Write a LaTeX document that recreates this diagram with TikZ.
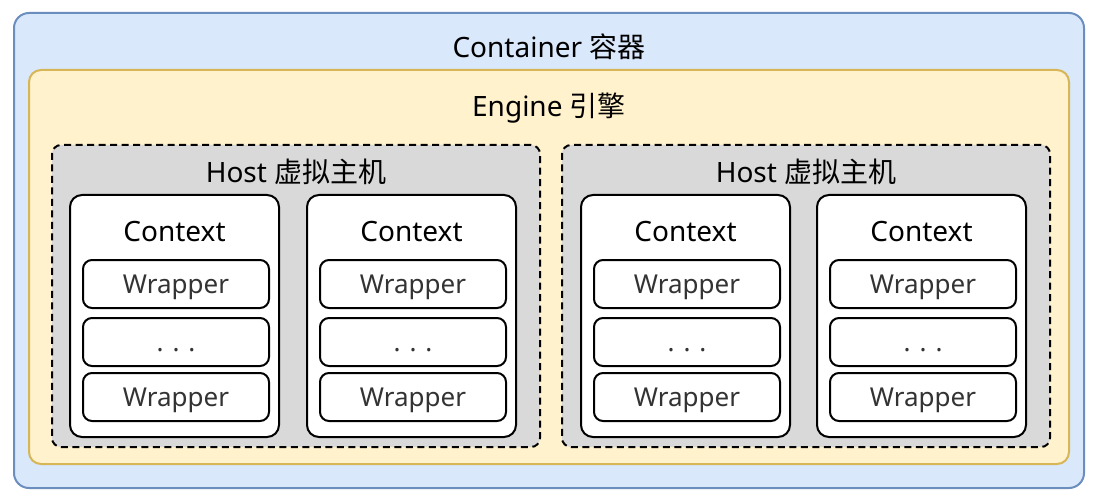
\documentclass[tikz,border=0pt]{standalone}
\usepackage{fontspec}
\setmainfont{Noto Sans}
\newfontfamily\cjk{Noto Sans CJK SC}
\usetikzlibrary{positioning}
\definecolor{containerfill}{HTML}{DAE8FC}
\definecolor{containerline}{HTML}{6C8EBF}
\definecolor{enginefill}{HTML}{FFF2CC}
\definecolor{engineline}{HTML}{D6B656}
\definecolor{hostfill}{HTML}{D9D9D9}
\definecolor{wraptext}{HTML}{333333}
\begin{document}
\begin{tikzpicture}[x=1pt,y=-1pt,line width=2pt,
	title/.style={font=\fontsize{28}{32}\selectfont},
	hostbox/.style={draw,fill=hostfill,dash pattern=on 7pt off 4.5pt,rounded corners=9pt,minimum width=488pt,minimum height=302pt},
	ctxbox/.style={draw,fill=white,rounded corners=12pt,minimum width=209pt,minimum height=242pt},
	wrapbox/.style={draw,fill=white,rounded corners=9pt,minimum width=186pt,minimum height=48pt,text=wraptext,text height=19pt,text depth=0pt,font=\fontsize{26}{30}\selectfont}]
	\useasboundingbox (0,0) rectangle (1102,494);
	% outer frames
	\node[draw=containerline, fill=containerfill, rounded corners=15pt, minimum width=1070pt, minimum height=475pt] (container) at (549,250.5) {};
	\node[title] (containerlabel) at (549,47) {Container {\cjk 容器}};
	\node[draw=engineline, fill=enginefill, rounded corners=12pt, minimum width=1040pt, minimum height=394pt] (engine) at (549,267) {};
	\node[title] (enginelabel) at (549,108) {Engine {\cjk 引擎}};
	% hosts
	\node[hostbox] (host1) at (296,296) {};
	\node[title] (host1label) at (296,172) {Host {\cjk 虚拟主机}};
	\node[hostbox] (host2) at (806,296) {};
	\node[title] (host2label) at (806,172) {Host {\cjk 虚拟主机}};
	% contexts
	\node[ctxbox] (ctx1) at (174.5,316) {};
	\node[title] (ctx1label) at (174.5,232) {Context};
	\node[wrapbox] (ctx1a) at (176,284) {Wrapper};
	\node[wrapbox] (ctx1b) at (176,342) {. . .};
	\node[wrapbox] (ctx1c) at (176,397) {Wrapper};
	\node[ctxbox] (ctx2) at (411.5,316) {};
	\node[title] (ctx2label) at (411.5,232) {Context};
	\node[wrapbox] (ctx2a) at (413,284) {Wrapper};
	\node[wrapbox] (ctx2b) at (413,342) {. . .};
	\node[wrapbox] (ctx2c) at (413,397) {Wrapper};
	\node[ctxbox] (ctx3) at (685.5,316) {};
	\node[title] (ctx3label) at (685.5,232) {Context};
	\node[wrapbox] (ctx3a) at (687,284) {Wrapper};
	\node[wrapbox] (ctx3b) at (687,342) {. . .};
	\node[wrapbox] (ctx3c) at (687,397) {Wrapper};
	\node[ctxbox] (ctx4) at (921.5,316) {};
	\node[title] (ctx4label) at (921.5,232) {Context};
	\node[wrapbox] (ctx4a) at (923,284) {Wrapper};
	\node[wrapbox] (ctx4b) at (923,342) {. . .};
	\node[wrapbox] (ctx4c) at (923,397) {Wrapper};
\end{tikzpicture}
\end{document}
